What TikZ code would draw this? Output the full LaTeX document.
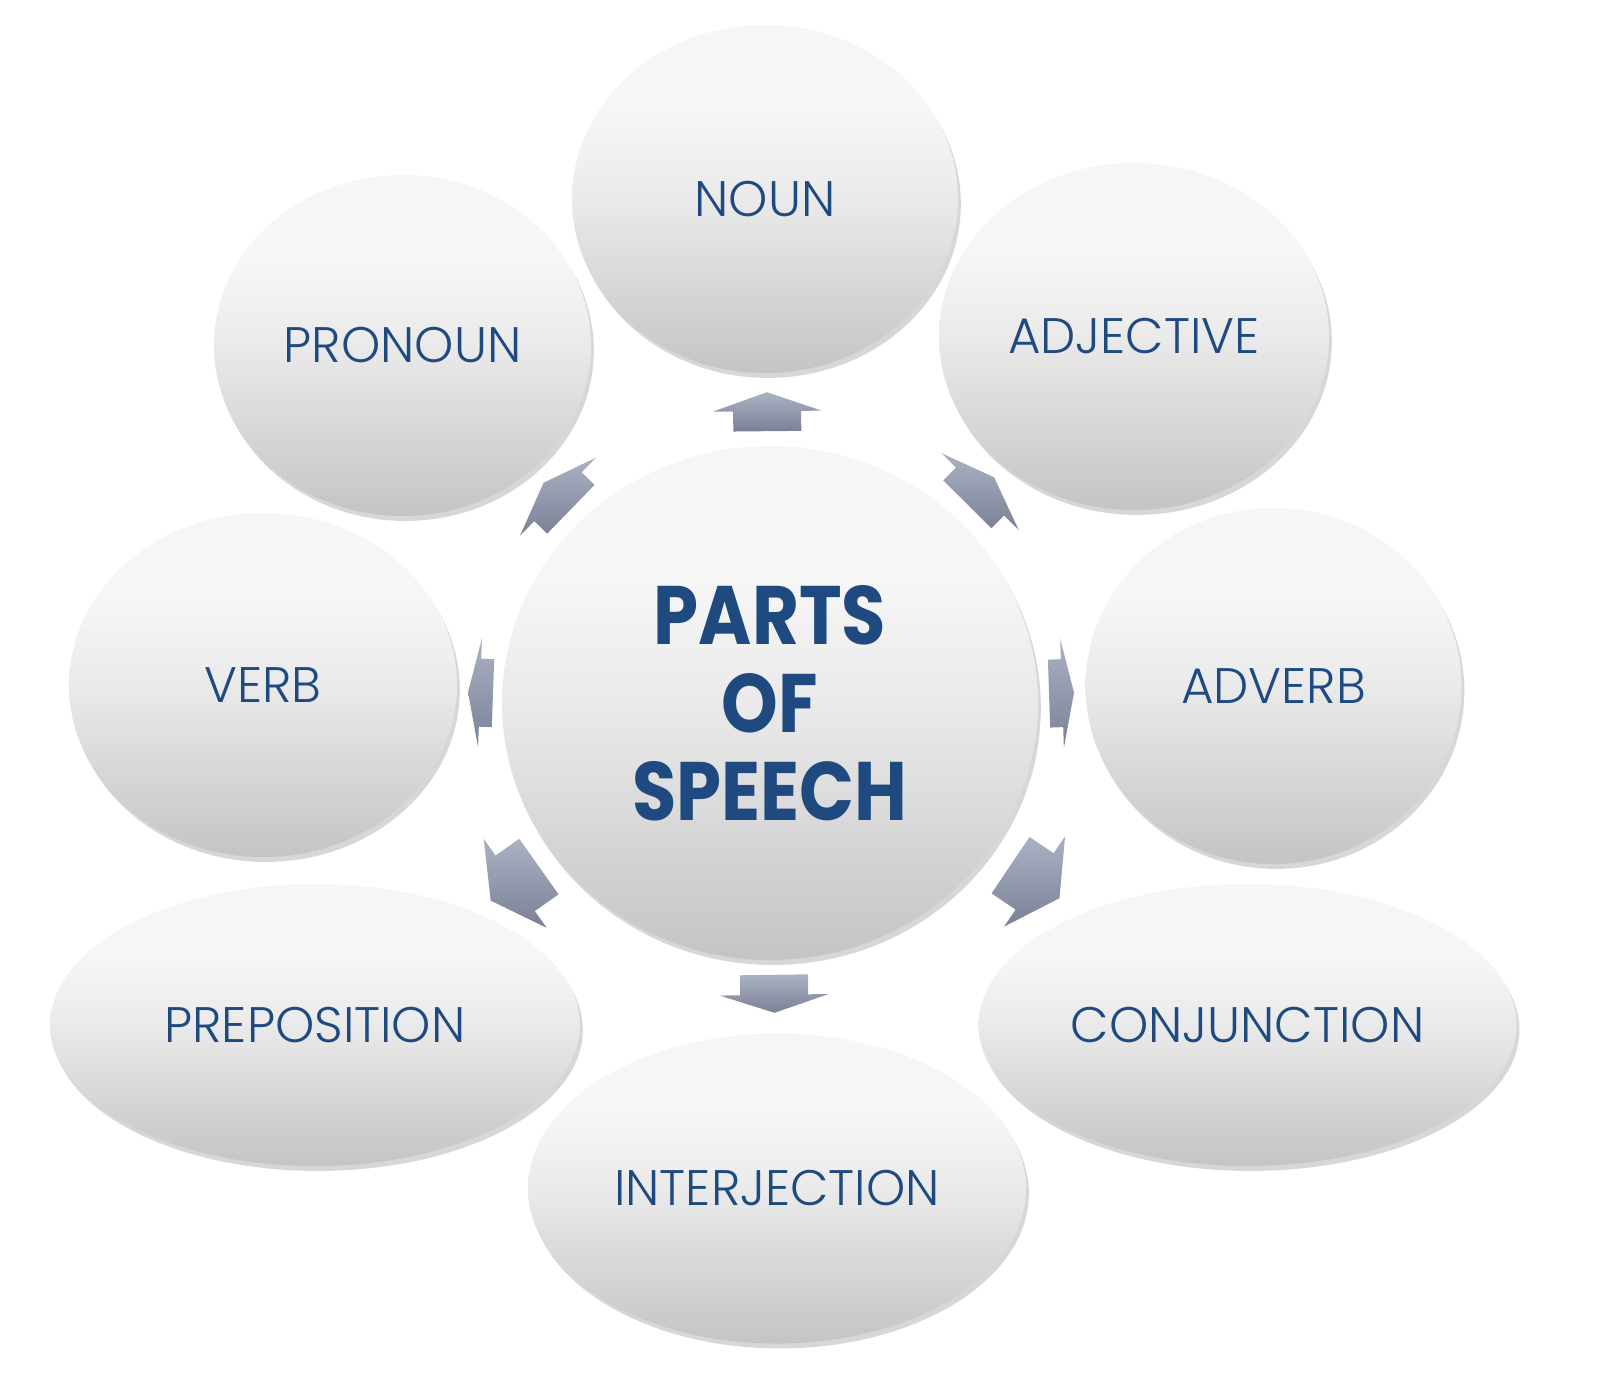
\documentclass[tikz,border=0pt]{standalone}
\usepackage{fontspec}
\setmainfont{Poppins}
\IfFontExistsTF{Poppins Light}{\newfontfamily\labelfont{Poppins Light}}{\newfontfamily\labelfont{Poppins}}
\newfontfamily\titlefont{Poppins}[FakeStretch=0.87]
\usepackage{tikz}
\usetikzlibrary{calc,shapes.geometric,shadows}

\definecolor{labelblue}{HTML}{1F4A80}
\definecolor{bubbletop}{HTML}{F6F6F6}
\definecolor{bubblemid}{HTML}{EAEAEA}
\definecolor{bubblebot}{HTML}{C4C4C4}
\definecolor{arrowtop}{HTML}{ACB2C4}
\definecolor{arrowbot}{HTML}{7A8196}

\pgfdeclareverticalshading{bubbleshade}{100bp}{color(0bp)=(bubblebot); color(25bp)=(bubblebot);
  color(50bp)=(bubblemid); color(62bp)=(bubbletop); color(100bp)=(bubbletop)}

\tikzset{
  bubble/.style={ellipse,inner sep=0pt,shading=bubbleshade,text=labelblue,
    font=\labelfont\fontsize{14.2}{16}\selectfont,
    drop shadow={shadow xshift=0.8pt,shadow yshift=-1.4pt,opacity=0.22,fill=black!70}},
  arrowfill/.style={top color=arrowtop,bottom color=arrowbot}
}

\begin{document}
\begin{tikzpicture}
          \useasboundingbox (0,0) rectangle (16,-13.83);
          \fill[white] (0,0) rectangle (16,-13.83);
          % centre circle
          \node[bubble,minimum width=5.36cm,minimum height=5.14cm,align=center,
            font=\titlefont\bfseries\fontsize{23.6}{25}\selectfont] (parts) at (7.70,-7.03) {PARTS\\OF\\SPEECH};
          % the eight parts
          \node[bubble,minimum width=3.86cm,minimum height=3.48cm] (noun) at (7.65,-1.99) {NOUN};
          \node[bubble,minimum width=3.77cm,minimum height=3.41cm] (pronoun) at (4.025,-3.455) {PRONOUN};
          \node[bubble,minimum width=3.90cm,minimum height=3.47cm] (adjective) at (11.34,-3.365) {ADJECTIVE};
          \node[bubble,minimum width=3.88cm,minimum height=3.44cm] (verb) at (2.63,-6.85) {VERB};
          \node[bubble,minimum width=3.76cm,minimum height=3.56cm] (adverb) at (12.735,-6.86) {ADVERB};
          \node[bubble,minimum width=5.30cm,minimum height=2.82cm] (preposition) at (3.15,-10.25) {PREPOSITION};
          \node[bubble,minimum width=5.38cm,minimum height=2.82cm] (conjunction) at (12.476,-10.25) {CONJUNCTION};
          \node[bubble,minimum width=4.98cm,minimum height=3.10cm] (interjection) at (7.77,-11.885) {INTERJECTION};
          % block arrows from the centre
          \foreach \tgt/\fr/\hd/\sh in {noun/0.579/0.19cm/0.20cm, adjective/0.577/0.20cm/0.18cm,
              adverb/0.580/0.12cm/0.13cm, conjunction/0.554/0.30cm/0.29cm,
              interjection/0.601/0.18cm/0.20cm, preposition/0.560/0.30cm/0.29cm,
              verb/0.572/0.12cm/0.13cm, pronoun/0.577/0.20cm/0.18cm}{
            \coordinate (c) at ($(parts)!\fr!(\tgt)$);
            \coordinate (b) at ($(c)!-\sh!(\tgt)$);
            \shade[arrowfill] ($(b)!0.34cm!90:(\tgt)$) -- ($(c)!0.34cm!90:(\tgt)$)
              -- ($(c)!0.545cm!90:(\tgt)$) -- ($(c)!\hd!(\tgt)$) -- ($(c)!0.545cm!-90:(\tgt)$)
              -- ($(c)!0.34cm!-90:(\tgt)$) -- ($(b)!0.34cm!-90:(\tgt)$) -- cycle;
          }
        \end{tikzpicture}
\end{document}
